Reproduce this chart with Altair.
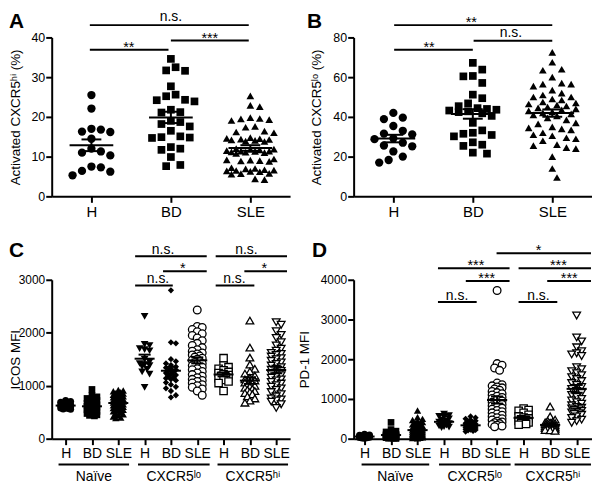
import math
import pandas as pd
import altair as alt

FONT = "Liberation Sans"

# ---------------- data ----------------
LABELS_3 = ["H", "BD", "SLE"]
GROUP_NAMES = ["Naïve", "CXCR5ˡᵒ", "CXCR5ʰⁱ"]

# Panel A: Activated CXCR5hi (%)
A_H = [25.5, 22.1, 17.0, 16.8, 16.3, 16.2, 14.5, 12.0, 11.3, 11.0, 10.3, 7.5, 7.3, 6.4, 6.2, 5.3]
A_BD = [34.6, 32.5, 31.7, 31.6, 27.7, 25.6, 25.2, 24.3, 24.2, 23.9, 21.8, 21.2, 21.1, 18.2,
        19.0, 18.7, 17.6, 15.1, 14.9, 14.8, 14.7, 12.4, 12.0, 11.7, 9.9, 7.9, 7.6, 16.5]
A_SLE = [25.3, 22.9, 22.6, 19.8, 19.6, 19.5, 19.3, 19.1, 17.6, 17.4, 16.4, 16.2, 16.0, 14.8,
         14.6, 14.5, 14.4, 14.3, 14.2, 14.1, 13.9, 13.8, 12.0, 11.9, 11.8, 11.7, 11.5, 11.4,
         11.4, 11.3, 11.2, 11.1, 11.0, 10.8, 9.4, 9.2, 9.1, 9.0, 8.9, 8.8, 7.2, 7.0, 6.9,
         6.7, 6.6, 6.5, 6.4, 6.3, 6.2, 5.8, 5.7, 5.6, 4.4, 4.2]

# Panel B: Activated CXCR5lo (%)
B_H = [42.0, 39.6, 38.9, 35.4, 33.0, 31.6, 31.2, 29.2, 28.8, 27.0, 25.6, 25.2, 22.6, 20.0, 18.3, 17.0]
B_BD = [67.2, 63.8, 60.6, 60.4, 57.1, 51.2, 49.4, 46.8, 45.4, 44.4, 44.0, 43.6, 43.2, 42.8,
        42.4, 41.8, 40.5, 37.0, 33.2, 32.0, 31.5, 30.9, 30.2, 27.2, 26.0, 25.4, 22.0, 21.5]
B_SLE = [72.5, 67.5, 64.0, 63.5, 60.0, 57.0, 56.5, 56.5, 55.5, 53.5, 52.0, 51.0, 50.0, 50.0,
         49.0, 48.5, 47.5, 47.0, 46.5, 46.0, 45.5, 45.0, 44.5, 44.0, 43.5, 43.0, 42.5, 42.0,
         41.5, 41.0, 40.5, 39.5, 38.5, 37.0, 36.5, 35.0, 34.5, 34.0, 33.5, 32.0, 31.0, 30.5,
         29.5, 29.0, 28.0, 26.0, 25.5, 24.5, 24.0, 20.0, 14.0, 9.5]

# Panel C: ICOS MFI
C_NAIVE_H = [720, 700, 690, 670, 650, 640, 630, 625, 615, 605, 600, 590, 580, 570, 560, 555]
C_NAIVE_BD = [930, 820, 790, 760, 740, 720, 700, 680, 665, 650, 640, 630, 620, 610, 600, 590,
              575, 560, 545, 530, 515, 500, 490, 475, 460, 450, 440, 430]
C_NAIVE_SLE = [920, 910, 895, 880, 860, 850, 840, 830, 820, 810, 800, 790, 780, 770, 760, 750,
               740, 730, 720, 710, 700, 690, 680, 670, 660, 650, 640, 630, 620, 610, 600, 590,
               580, 570, 560, 545, 530, 515, 500, 480, 460, 440, 420, 400, 390]
C_LO_H = [2310, 1780, 1760, 1700, 1660, 1680, 1500, 1450, 1420, 1380, 1400, 1360, 1310, 1260, 1220, 970]
C_LO_BD = [2800, 1820, 1800, 1500, 1460, 1420, 1390, 1360, 1340, 1320, 1300, 1280, 1260, 1240,
           1220, 1200, 1180, 1160, 1140, 1120, 1100, 1060, 1020, 980, 950, 900, 820, 780]
C_LO_SLE = [2430, 2120, 2100, 2060, 2020, 1980, 1950, 1900, 1850, 1800, 1760, 1720, 1680, 1650,
            1620, 1600, 1580, 1560, 1540, 1520, 1500, 1480, 1460, 1440, 1420, 1400, 1380, 1350,
            1320, 1300, 1270, 1240, 1210, 1180, 1150, 1120, 1100, 1080, 1050, 1020, 1000, 970,
            940, 900, 820]
C_HI_H = [1520, 1380, 1350, 1320, 1290, 1260, 1240, 1220, 1200, 1180, 1160, 1140, 1110, 1080, 1050, 900]
C_HI_BD = [2230, 1720, 1530, 1400, 1320, 1270, 1230, 1190, 1150, 1120, 1100, 1080, 1060, 1040,
           1020, 1000, 980, 960, 940, 920, 900, 880, 860, 840, 800, 760, 720, 680]
C_HI_SLE = [2200, 2150, 2030, 1960, 1900, 1820, 1760, 1700, 1660, 1620, 1600, 1580, 1550, 1520,
            1500, 1470, 1440, 1410, 1380, 1350, 1320, 1300, 1280, 1250, 1220, 1200, 1180, 1150,
            1120, 1100, 1070, 1040, 1010, 980, 950, 920, 880, 840, 800, 760, 740, 720, 700, 650, 580]

# Panel D: PD-1 MFI
D_NAIVE_H = [110, 95, 85, 75, 70, 65, 60, 55, 50, 45, 40, 35, 30, 25, 20, 10]
D_NAIVE_BD = [410, 230, 190, 170, 150, 135, 120, 110, 100, 95, 90, 85, 80, 75, 70, 65, 60, 55,
              50, 45, 40, 35, 30, 25, 20, 15, 10, 5]
D_NAIVE_SLE = [710, 540, 500, 470, 440, 420, 400, 380, 360, 340, 320, 300, 290, 280, 270, 260,
               250, 240, 230, 220, 210, 200, 190, 180, 170, 160, 150, 140, 130, 120, 110, 100,
               95, 90, 80, 70, 60, 55, 50, 40, 35, 30, 20, 15, 10]
D_LO_H = [620, 580, 560, 540, 500, 470, 440, 420, 400, 380, 360, 340, 320, 300, 290, 280]
D_LO_BD = [560, 530, 500, 470, 450, 430, 410, 390, 380, 370, 360, 350, 340, 330, 320, 310, 300,
           290, 280, 270, 260, 250, 240, 230, 220, 210, 195, 180]
D_LO_SLE = [3730, 1890, 1850, 1780, 1720, 1400, 1360, 1330, 1300, 1280, 1250, 1220, 1190, 1160,
            1130, 1100, 1070, 1040, 1010, 980, 950, 920, 890, 860, 830, 800, 770, 740, 710, 680,
            650, 620, 590, 560, 530, 500, 470, 440, 420, 400, 380, 360, 340, 320, 300]
D_HI_H = [760, 720, 700, 650, 600, 560, 530, 510, 490, 470, 450, 430, 410, 390, 370, 350]
D_HI_BD = [810, 560, 480, 450, 430, 410, 400, 390, 380, 370, 360, 350, 340, 330, 320, 310, 300,
           290, 280, 275, 270, 260, 250, 240, 230, 220, 210, 200]
D_HI_SLE = [3100, 2550, 2450, 2300, 2200, 2150, 2120, 2080, 1800, 1750, 1700, 1650, 1600, 1550,
            1500, 1450, 1400, 1350, 1300, 1250, 1200, 1150, 1100, 1050, 1000, 960, 920, 880, 840,
            800, 780, 760, 740, 720, 700, 680, 660, 640, 620, 600, 560, 520, 480, 440, 400]

# significance annotations: (from position, to position, level)
A_BARS = [(0.98, 2.98, 43.1), (0.98, 1.97, 36.9), (2.0, 2.98, 39.2)]
A_SIG = [("n.s.", 2.0, 43.1), ("**", 1.47, 36.9), ("***", 2.49, 39.2)]
B_BARS = [(1.01, 3.0, 86.2), (1.01, 2.0, 73.85), (2.01, 3.0, 78.35)]
B_SIG = [("**", 1.98, 86.2), ("**", 1.45, 73.85), ("n.s.", 2.48, 78.35)]
C_BARS = [(3.64, 6.36, 3442), (6.70, 9.41, 3442), (4.70, 6.36, 3163), (7.79, 9.41, 3163),
          (3.64, 5.07, 2893), (6.70, 8.17, 2893)]
C_SIG = [("n.s.", 4.70, 3442), ("n.s.", 7.87, 3442), ("*", 5.45, 3163), ("*", 8.55, 3163),
         ("n.s.", 4.51, 2893), ("n.s.", 7.41, 2893)]
D_BARS = [(3.77, 5.23, 3442), (6.81, 8.27, 3442), (4.82, 6.47, 3967), (7.89, 9.54, 3967),
          (3.77, 6.47, 4292), (6.81, 9.54, 4292), (5.98, 9.54, 4667)]
D_SIG = [("n.s.", 4.49, 3442), ("n.s.", 7.56, 3442), ("***", 5.61, 3967), ("***", 8.72, 3967),
         ("***", 5.20, 4292), ("***", 8.31, 4292), ("*", 7.56, 4667)]
C_SPANS = [(0.73, 3.41), (3.75, 6.47), (6.77, 9.45)]
D_SPANS = [(0.89, 3.44), (3.81, 6.51), (6.66, 9.54)]

W, H = 240, 160


def swarm(vals, ppu_y, diam, maxw):
    step = diam / 2.0
    cands = [0.0]
    k = 1
    while k * step <= maxw + 1e-9:
        cands += [k * step, -k * step]
        k += 1
    placed = []
    out = [0.0] * len(vals)
    order = sorted(range(len(vals)), key=lambda i: -vals[i])
    for i in order:
        y = vals[i] * ppu_y
        best, bestd, bestc = None, -1.0, 0.0
        for c in cands:
            d = min([math.hypot(c - px, y - py) for px, py in placed] or [1e9])
            if d >= diam:
                best = c
                break
            if d > bestd:
                bestd, bestc = d, c
        if best is None:
            best = bestc
        placed.append((best, y))
        out[i] = best
    return out


def build_panel(groups, xdom, ydom, yticks, ytitle, tpad, bars, sigs, letter, lxy,
                diam, maxw, hw_mean, hw_sem, ns_dy, xfs, yfs, spans=None):
    ppu_x = W / (xdom[1] - xdom[0])
    ppu_y = H / (ydom[1] - ydom[0])
    rows = []
    for pos, vals, shape, filled, size in groups:
        offs = swarm(vals, ppu_y, diam, maxw)
        for v, o in zip(vals, offs):
            rows.append(dict(pos=pos, x=pos + o / ppu_x, v=v, shape=shape, filled=filled, size=size))
    pts = pd.DataFrame(rows)
    n = len(groups)
    arr = "[" + ",".join("'%s'" % LABELS_3[i % 3] for i in range(n)) + "]"
    xscale = alt.Scale(domain=list(xdom), nice=False, zero=False)
    yscale = alt.Scale(domain=list(ydom), nice=False, zero=False)
    xaxis = alt.Axis(values=list(range(1, n + 1)), labelExpr=arr + "[datum.value-1]", title=None,
                     grid=False, labelFontSize=xfs, labelPadding=2, tickSize=6,
                     labelFlush=False, labelOverlap=False)
    yaxis = alt.Axis(values=yticks, title=ytitle, titlePadding=tpad, grid=False,
                     labelFontSize=yfs, titleFontSize=13.5, labelPadding=1, tickSize=6,
                     labelFlush=False, labelOverlap=False, format="d")

    def X(f):
        return alt.X(f, type="quantitative", scale=xscale, axis=xaxis)

    def Y(f):
        return alt.Y(f, type="quantitative", scale=yscale, axis=yaxis)

    layers = []
    fdf = pts[pts["filled"]]
    odf = pts[~pts["filled"]]
    if len(fdf):
        layers.append(alt.Chart(fdf).mark_point(filled=True, color="black", opacity=1).encode(
            x=X("x"), y=Y("v"), shape=alt.Shape("shape:N", scale=None),
            size=alt.Size("size:Q", scale=None)))
    if len(odf):
        layers.append(alt.Chart(odf).mark_point(filled=False, fill="white", fillOpacity=1,
                                                stroke="black", strokeWidth=1.3, opacity=1).encode(
            x=X("x"), y=Y("v"), shape=alt.Shape("shape:N", scale=None),
            size=alt.Size("size:Q", scale=None)))
    stats = alt.Chart(pts).transform_aggregate(
        m="mean(v)", se="stderr(v)", groupby=["pos"]
    ).transform_calculate(
        lo="datum.m - datum.se", hi="datum.m + datum.se",
        ml="datum.pos - %f" % hw_mean, mr="datum.pos + %f" % hw_mean,
        sl="datum.pos - %f" % hw_sem, sr="datum.pos + %f" % hw_sem,
    )
    rule = dict(color="black", strokeWidth=2)
    layers.append(stats.mark_rule(**rule).encode(x=X("ml"), x2="mr:Q", y=Y("m")))
    layers.append(stats.mark_rule(**rule).encode(x=X("sl"), x2="sr:Q", y=Y("hi")))
    layers.append(stats.mark_rule(**rule).encode(x=X("sl"), x2="sr:Q", y=Y("lo")))
    layers.append(stats.mark_rule(**rule).encode(x=X("pos"), y=Y("lo"), y2="hi:Q"))

    bdf = pd.DataFrame(bars, columns=["x1", "x2", "y"])
    layers.append(alt.Chart(bdf).mark_rule(**rule).encode(x=X("x1"), x2="x2:Q", y=Y("y")))
    sdf = pd.DataFrame(sigs, columns=["t", "x", "y"])
    ns = sdf[sdf["t"] == "n.s."]
    st = sdf[sdf["t"] != "n.s."]
    if len(ns):
        layers.append(alt.Chart(ns).mark_text(baseline="alphabetic", dy=ns_dy, fontSize=14,
                                              color="black").encode(x=X("x"), y=Y("y"), text="t:N"))
    if len(st):
        layers.append(alt.Chart(st).mark_text(baseline="alphabetic", dy=2, fontSize=14.5,
                                              color="black").encode(x=X("x"), y=Y("y"), text="t:N"))
    if spans:
        gdf = pd.DataFrame([(a, b, (a + b) / 2, nm) for (a, b), nm in zip(spans, GROUP_NAMES)],
                           columns=["x1", "x2", "xc", "name"])
        layers.append(alt.Chart(gdf).mark_rule(**rule).encode(x=X("x1"), x2="x2:Q", y=alt.value(H + 26)))
        layers.append(alt.Chart(gdf).mark_text(baseline="middle", fontSize=14, color="black").encode(
            x=X("xc"), y=alt.value(H + 39), text="name:N"))
    layers.append(alt.Chart(pd.DataFrame({"t": [letter]})).mark_text(
        align="left", baseline="alphabetic", fontSize=21, fontWeight="bold", color="black").encode(
        x=alt.value(lxy[0]), y=alt.value(lxy[1]), text="t:N"))
    return alt.layer(*layers).properties(width=W, height=H)


pA = build_panel(
    [(1, A_H, "circle", True, 70), (2, A_BD, "square", True, 60), (3, A_SLE, "triangle-up", True, 60)],
    (0.5, 3.5), (0, 40), [0, 10, 20, 30, 40], "Activated CXCR5ʰⁱ (%)", 9,
    A_BARS, A_SIG, "A", (-43, -10), 9.5, 28, 0.275, 0.125, -4, 15, 12.5)
pB = build_panel(
    [(1, B_H, "circle", True, 70), (2, B_BD, "square", True, 60), (3, B_SLE, "triangle-up", True, 60)],
    (0.5, 3.5), (0, 80), [0, 20, 40, 60, 80], "Activated CXCR5ˡᵒ (%)", 9,
    B_BARS, B_SIG, "B", (-47, -10), 9.5, 28, 0.275, 0.125, -4, 15, 12.5)
pC = build_panel(
    [(1, C_NAIVE_H, "circle", True, 50), (2, C_NAIVE_BD, "square", True, 45),
     (3, C_NAIVE_SLE, "triangle-up", True, 55), (4, C_LO_H, "triangle-down", True, 60),
     (5, C_LO_BD, "diamond", True, 40), (6, C_LO_SLE, "circle", False, 60),
     (7, C_HI_H, "square", False, 55), (8, C_HI_BD, "triangle-up", False, 60),
     (9, C_HI_SLE, "triangle-down", False, 60)],
    (0.47, 0.47 + W / 26.5), (0, 3000), [0, 1000, 2000, 3000], "ICOS MFI", -4,
    C_BARS, C_SIG, "C", (-43, -23), 5, 7, 0.38, 0.23, -2, 14, 12, C_SPANS)
pD = build_panel(
    [(1, D_NAIVE_H, "circle", True, 50), (2, D_NAIVE_BD, "square", True, 45),
     (3, D_NAIVE_SLE, "triangle-up", True, 55), (4, D_LO_H, "triangle-down", True, 60),
     (5, D_LO_BD, "diamond", True, 40), (6, D_LO_SLE, "circle", False, 60),
     (7, D_HI_H, "square", False, 55), (8, D_HI_BD, "triangle-up", False, 60),
     (9, D_HI_SLE, "triangle-down", False, 60)],
    (0.59, 0.59 + W / 26.7), (0, 4000), [0, 1000, 2000, 3000, 4000], "PD-1 MFI", 9,
    D_BARS, D_SIG, "D", (-42, -23), 5, 7, 0.38, 0.23, -2, 14, 12, D_SPANS)

chart = alt.concat(
    pA, pB, pC, pD, columns=2, spacing={"row": 84, "column": 64}, bounds="flush"
).properties(
    padding={"left": 0, "top": 0, "right": 0, "bottom": 0}
).configure_view(stroke=None).configure_axis(
    labelFont=FONT, titleFont=FONT, labelColor="black", titleColor="black",
    domainColor="black", tickColor="black", domainWidth=2, tickWidth=2,
    titleFontWeight="normal", grid=False
).configure_text(font=FONT)

chart.save("out.html", embed_options={"renderer": "svg", "actions": False})
